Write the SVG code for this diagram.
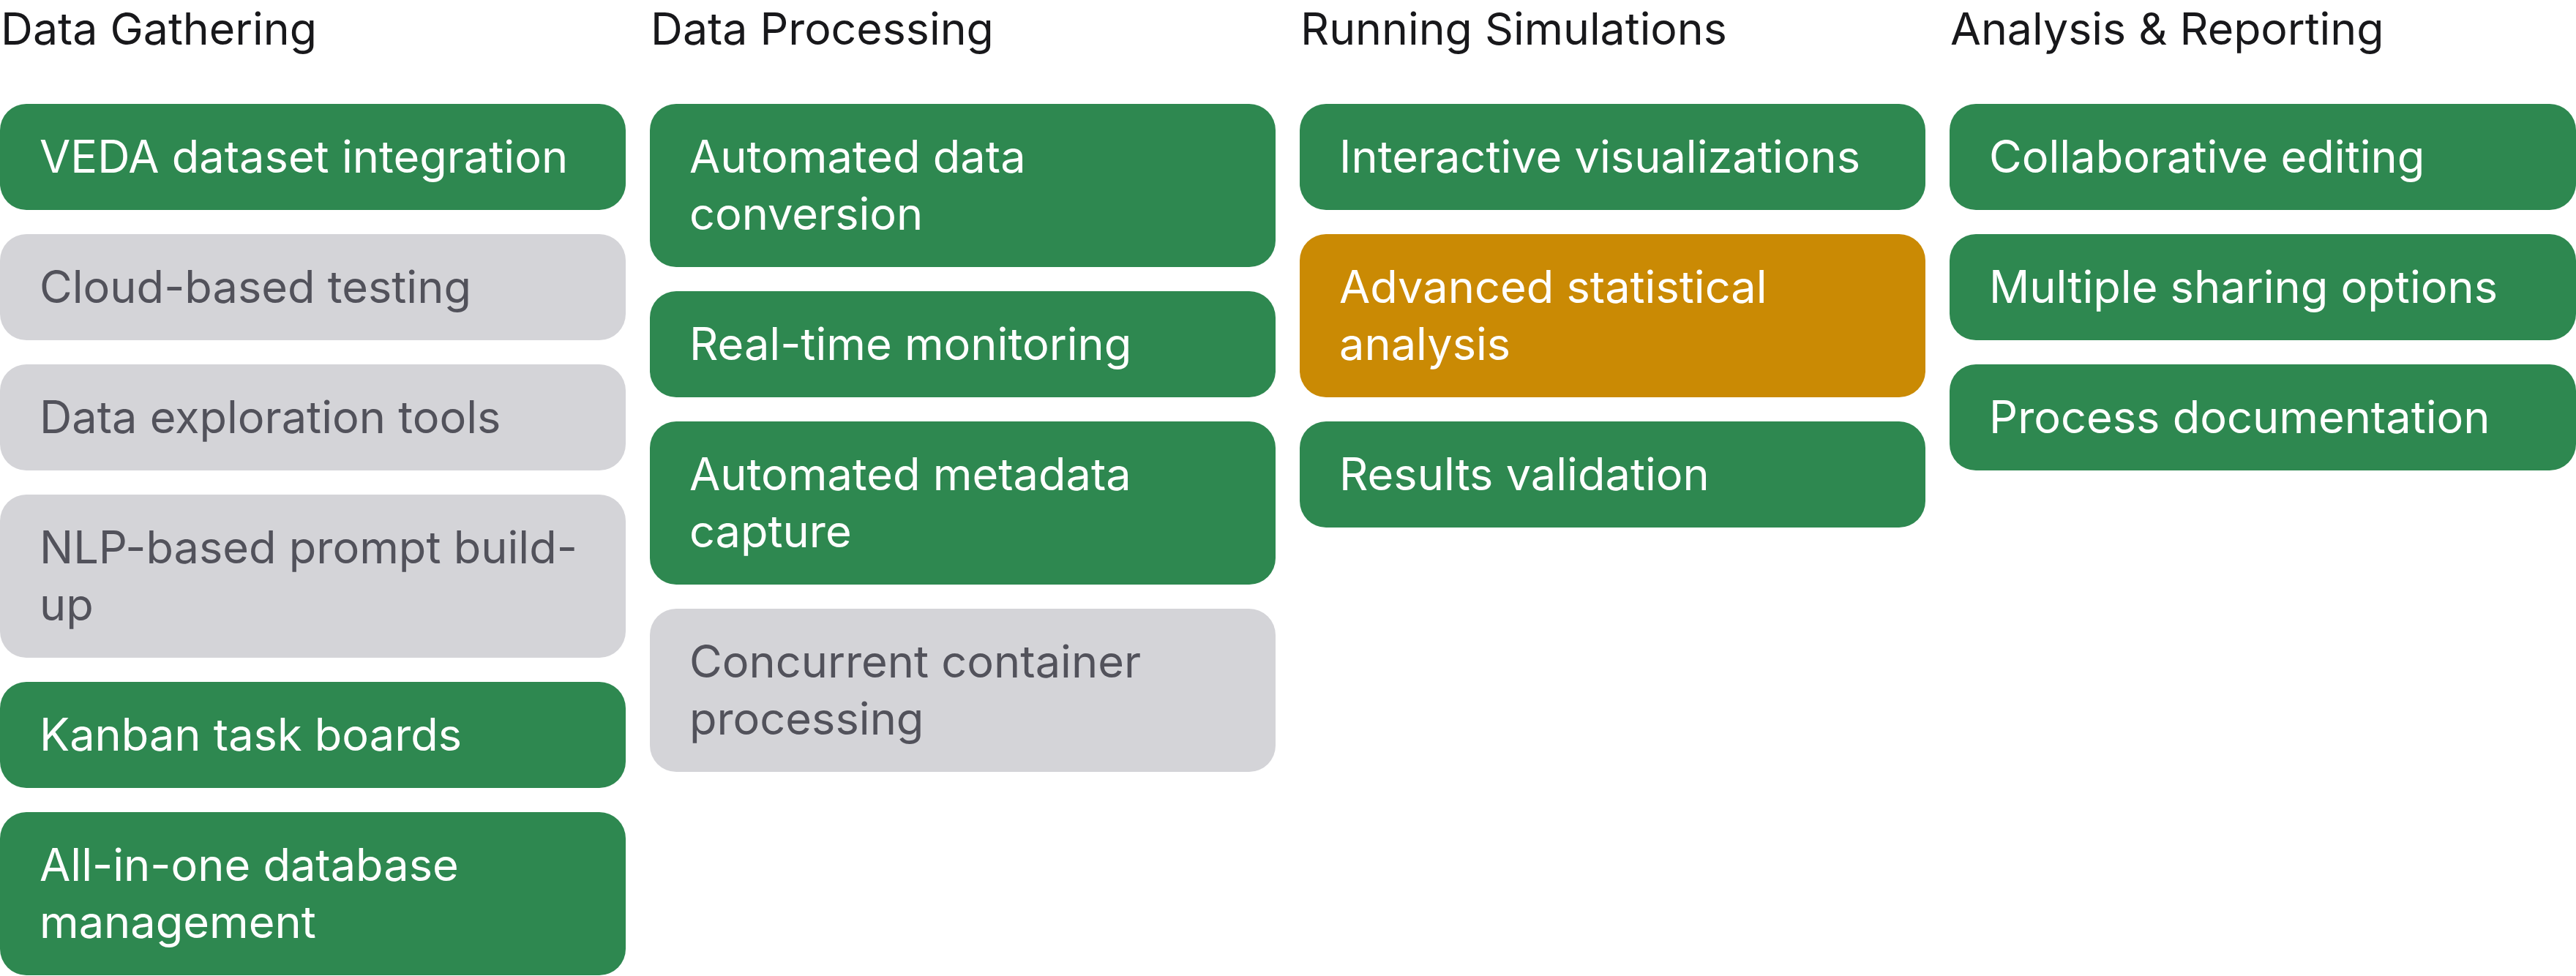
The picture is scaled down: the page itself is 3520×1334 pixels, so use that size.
<svg xmlns="http://www.w3.org/2000/svg" width="3520" height="1334" viewBox="0 0 3520 1334">
<style>
.h{font-family:Inter,"Noto Sans","Liberation Sans",sans-serif;font-size:60.8px;fill:#18181b}
.t{font-family:Inter,"Noto Sans","Liberation Sans",sans-serif;font-size:61.3px}
.g rect{fill:#2e8850}.g text{fill:#ffffff}
.n rect{fill:#d4d4d8}.n text{fill:#52525b}
.o rect{fill:#ca8a04}.o text{fill:#ffffff}
</style>
<rect width="3520" height="1334" fill="#ffffff"/>
<g id="headers">
<text class="h" x="1" y="61">Data Gathering</text>
<text class="h" x="889" y="61">Data Processing</text>
<text class="h" x="1777" y="61">Running Simulations</text>
<text class="h" x="2665" y="61">Analysis &amp; Reporting</text>
</g>
<g id="c1n1" class="g"><rect x="0" y="142" width="855" height="145" rx="36"/><text class="t" x="54" y="236">VEDA dataset integration</text></g>
<g id="c1n2" class="n"><rect x="0" y="320" width="855" height="145" rx="36"/><text class="t" x="54" y="414">Cloud-based testing</text></g>
<g id="c1n3" class="n"><rect x="0" y="498" width="855" height="145" rx="36"/><text class="t" x="54" y="592">Data exploration tools</text></g>
<g id="c1n4" class="n"><rect x="0" y="676" width="855" height="223" rx="36"/><text class="t" x="54" y="770">NLP-based prompt build-</text><text class="t" x="54" y="848">up</text></g>
<g id="c1n5" class="g"><rect x="0" y="932" width="855" height="145" rx="36"/><text class="t" x="54" y="1026">Kanban task boards</text></g>
<g id="c1n6" class="g"><rect x="0" y="1110" width="855" height="223" rx="36"/><text class="t" x="54" y="1204">All-in-one database</text><text class="t" x="54" y="1282">management</text></g>
<g id="c2n1" class="g"><rect x="888" y="142" width="855" height="223" rx="36"/><text class="t" x="942" y="236">Automated data</text><text class="t" x="942" y="314">conversion</text></g>
<g id="c2n2" class="g"><rect x="888" y="398" width="855" height="145" rx="36"/><text class="t" x="942" y="492">Real-time monitoring</text></g>
<g id="c2n3" class="g"><rect x="888" y="576" width="855" height="223" rx="36"/><text class="t" x="942" y="670">Automated metadata</text><text class="t" x="942" y="748">capture</text></g>
<g id="c2n4" class="n"><rect x="888" y="832" width="855" height="223" rx="36"/><text class="t" x="942" y="926">Concurrent container</text><text class="t" x="942" y="1004">processing</text></g>
<g id="c3n1" class="g"><rect x="1776" y="142" width="855" height="145" rx="36"/><text class="t" x="1830" y="236">Interactive visualizations</text></g>
<g id="c3n2" class="o"><rect x="1776" y="320" width="855" height="223" rx="36"/><text class="t" x="1830" y="414">Advanced statistical</text><text class="t" x="1830" y="492">analysis</text></g>
<g id="c3n3" class="g"><rect x="1776" y="576" width="855" height="145" rx="36"/><text class="t" x="1830" y="670">Results validation</text></g>
<g id="c4n1" class="g"><rect x="2664" y="142" width="856" height="145" rx="36"/><text class="t" x="2718" y="236">Collaborative editing</text></g>
<g id="c4n2" class="g"><rect x="2664" y="320" width="856" height="145" rx="36"/><text class="t" x="2718" y="414">Multiple sharing options</text></g>
<g id="c4n3" class="g"><rect x="2664" y="498" width="856" height="145" rx="36"/><text class="t" x="2718" y="592">Process documentation</text></g>
<g id="connectors"></g>
</svg>
